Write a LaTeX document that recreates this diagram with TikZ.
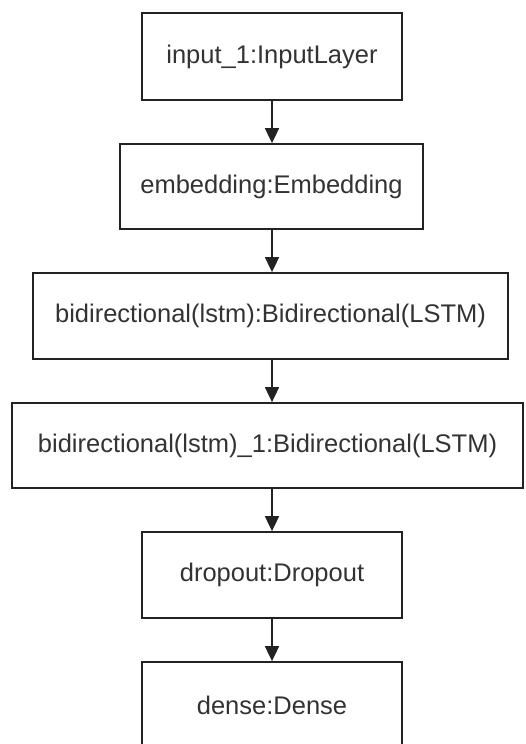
\documentclass[tikz,border=0pt]{standalone}
\usepackage{fontspec}
\setmainfont{Liberation Sans}
\usetikzlibrary{arrows.meta}
\definecolor{txt}{HTML}{333333}
\definecolor{edge}{HTML}{222222}
\begin{document}
\begin{tikzpicture}[x=1pt,y=-1pt,
  layer/.style={draw=edge, line width=1.8pt, rectangle, inner sep=0pt, text=txt,
    font=\fontsize{25.5}{30}\selectfont},
  flow/.style={draw=edge, line width=1.8pt, -{Triangle[width=14pt,length=15pt]}}]
\fill[white] (0,0) rectangle (526,744);
\useasboundingbox (0,0) rectangle (526,744);
\node[layer, minimum width=260pt, minimum height=87pt] (n1) at (272,56.5) {input\_1:InputLayer};
\node[layer, minimum width=303pt, minimum height=85pt] (n2) at (271.5,186.5) {embedding:Embedding};
\node[layer, minimum width=475pt, minimum height=86pt] (n3) at (270.5,316) {bidirectional(lstm):Bidirectional(LSTM)};
\node[layer, minimum width=511pt, minimum height=85pt] (n4) at (267.5,445.5) {bidirectional(lstm)\_1:Bidirectional(LSTM)};
\node[layer, minimum width=260pt, minimum height=86pt] (n5) at (272,575) {dropout:Dropout};
\node[layer, minimum width=260pt, minimum height=86pt] (n6) at (272,705) {dense:Dense};
\draw[flow] (n1.south) -- (n1.south |- n2.north);
\draw[flow] (n1.south |- n2.south) -- (n1.south |- n3.north);
\draw[flow] (n1.south |- n3.south) -- (n1.south |- n4.north);
\draw[flow] (n1.south |- n4.south) -- (n1.south |- n5.north);
\draw[flow] (n5.south) -- (n6.north);
\end{tikzpicture}
\end{document}
